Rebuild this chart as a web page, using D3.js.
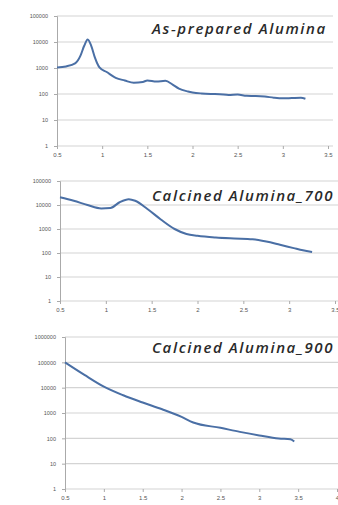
<!DOCTYPE html>
<html>
<head>
<meta charset="utf-8">
<script src="https://cdn.jsdelivr.net/npm/d3@7"></script>
<style>
  body { margin: 0; background: #fff; }
  svg { display: block; }
  .tick text { fill: #555; }
</style>
</head>
<body>
<div id="chart"></div>
<script>
// As-prepared alumina
const xPrepared = [0.5, 0.6, 0.7, 0.76, 0.8, 0.84, 0.88, 0.92, 0.97, 1.05, 1.15, 1.25, 1.35, 1.45, 1.5, 1.6, 1.7, 1.78, 1.85, 1.95, 2.0, 2.1, 2.2, 2.3, 2.4, 2.5, 2.6, 2.7, 2.8, 2.9, 3.0, 3.1, 3.2, 3.25];
const yPrepared = [1050, 1150, 1500, 3000, 7000, 12500, 7000, 2500, 1050, 700, 420, 330, 270, 290, 330, 300, 320, 230, 160, 125, 115, 105, 100, 98, 92, 95, 85, 84, 80, 72, 68, 70, 72, 66];

// Calcined alumina 700
const x700 = [0.5, 0.65, 0.8, 0.95, 1.05, 1.15, 1.25, 1.32, 1.45, 1.6, 1.75, 1.88, 2.0, 2.2, 2.4, 2.6, 2.75, 2.9, 3.05, 3.15, 3.25];
const y700 = [21000, 15000, 10000, 7200, 7500, 13000, 17500, 15000, 7000, 2500, 1000, 620, 520, 440, 400, 370, 300, 220, 160, 130, 110];

// Calcined alumina 900
const x900 = [0.5, 0.75, 1.0, 1.25, 1.5, 1.75, 2.0, 2.15, 2.5, 2.75, 3.0, 3.25, 3.4, 3.45];
const y900 = [100000, 32000, 11000, 5000, 2600, 1400, 700, 420, 260, 180, 130, 98, 92, 75];

const panels = [
  { title: 'As-prepared  Alumina', xs: xPrepared, ys: yPrepared, xMax: 3.5, yMax: 100000,
    left: 57, right: 328, gridEnd: 333, top: 16, bottom: 146, titleX: 152, titleY: 34 },
  { title: 'Calcined Alumina_700', xs: x700, ys: y700, xMax: 3.5, yMax: 100000,
    left: 60, right: 335, gridEnd: 340, top: 181, bottom: 301, titleX: 152, titleY: 201 },
  { title: 'Calcined Alumina_900', xs: x900, ys: y900, xMax: 4, yMax: 1000000,
    left: 65, right: 337, gridEnd: 340, top: 337, bottom: 489, titleX: 152, titleY: 353 }
];

const width = 338, height = 505;
const svg = d3.select('#chart').append('svg')
  .attr('width', width)
  .attr('height', height);

panels.forEach(p => {
  const x = d3.scaleLinear().domain([0.5, p.xMax]).range([p.left, p.right]);
  const y = d3.scaleLog().domain([1, p.yMax]).range([p.bottom, p.top]);
  const yTicks = d3.range(0, Math.round(Math.log10(p.yMax)) + 1).map(e => Math.pow(10, e));
  const xTicks = d3.range(0.5, p.xMax + 0.01, 0.5);

  const g = svg.append('g');

  // horizontal gridlines
  g.selectAll('.grid')
    .data(yTicks)
    .enter()
    .append('line')
    .attr('x1', p.left)
    .attr('x2', p.gridEnd)
    .attr('y1', d => y(d))
    .attr('y2', d => y(d))
    .attr('stroke', '#d4d4d4')
    .attr('stroke-width', 1.2);

  // y axis
  const yAxis = g.append('g')
    .attr('transform', `translate(${p.left},0)`)
    .call(d3.axisLeft(y).tickValues(yTicks).tickFormat(d3.format('d')).tickSize(3).tickPadding(6));
  yAxis.select('.domain').attr('stroke', '#aaa');
  yAxis.selectAll('.tick line').attr('stroke', '#aaa');
  yAxis.selectAll('text').style('font-family', 'Liberation Sans, Arial').style('font-size', '5.5px');

  // x axis
  const xAxis = g.append('g')
    .attr('transform', `translate(0,${p.bottom})`)
    .call(d3.axisBottom(x).tickValues(xTicks).tickFormat(d3.format('')).tickSize(3).tickPadding(4));
  xAxis.select('.domain').remove();
  xAxis.selectAll('.tick line').attr('stroke', '#aaa');
  xAxis.selectAll('text').style('font-family', 'Liberation Sans, Arial').style('font-size', '6px');

  // data line
  const line = d3.line()
    .x((d, i) => x(p.xs[i]))
    .y(d => y(d))
    .curve(d3.curveMonotoneX);

  g.append('path')
    .datum(p.ys)
    .attr('d', line)
    .attr('fill', 'none')
    .attr('stroke', '#4a6fa5')
    .attr('stroke-width', 2);

  // panel title
  g.append('text')
    .attr('x', p.titleX)
    .attr('y', p.titleY)
    .text(p.title)
    .style('font-family', 'Open Sans, sans-serif')
    .style('font-style', 'italic')
    .style('font-weight', '600')
    .style('font-size', '15px')
    .style('letter-spacing', '1.6px')
    .attr('fill', '#2a2a2a');
});
</script>
</body>
</html>
